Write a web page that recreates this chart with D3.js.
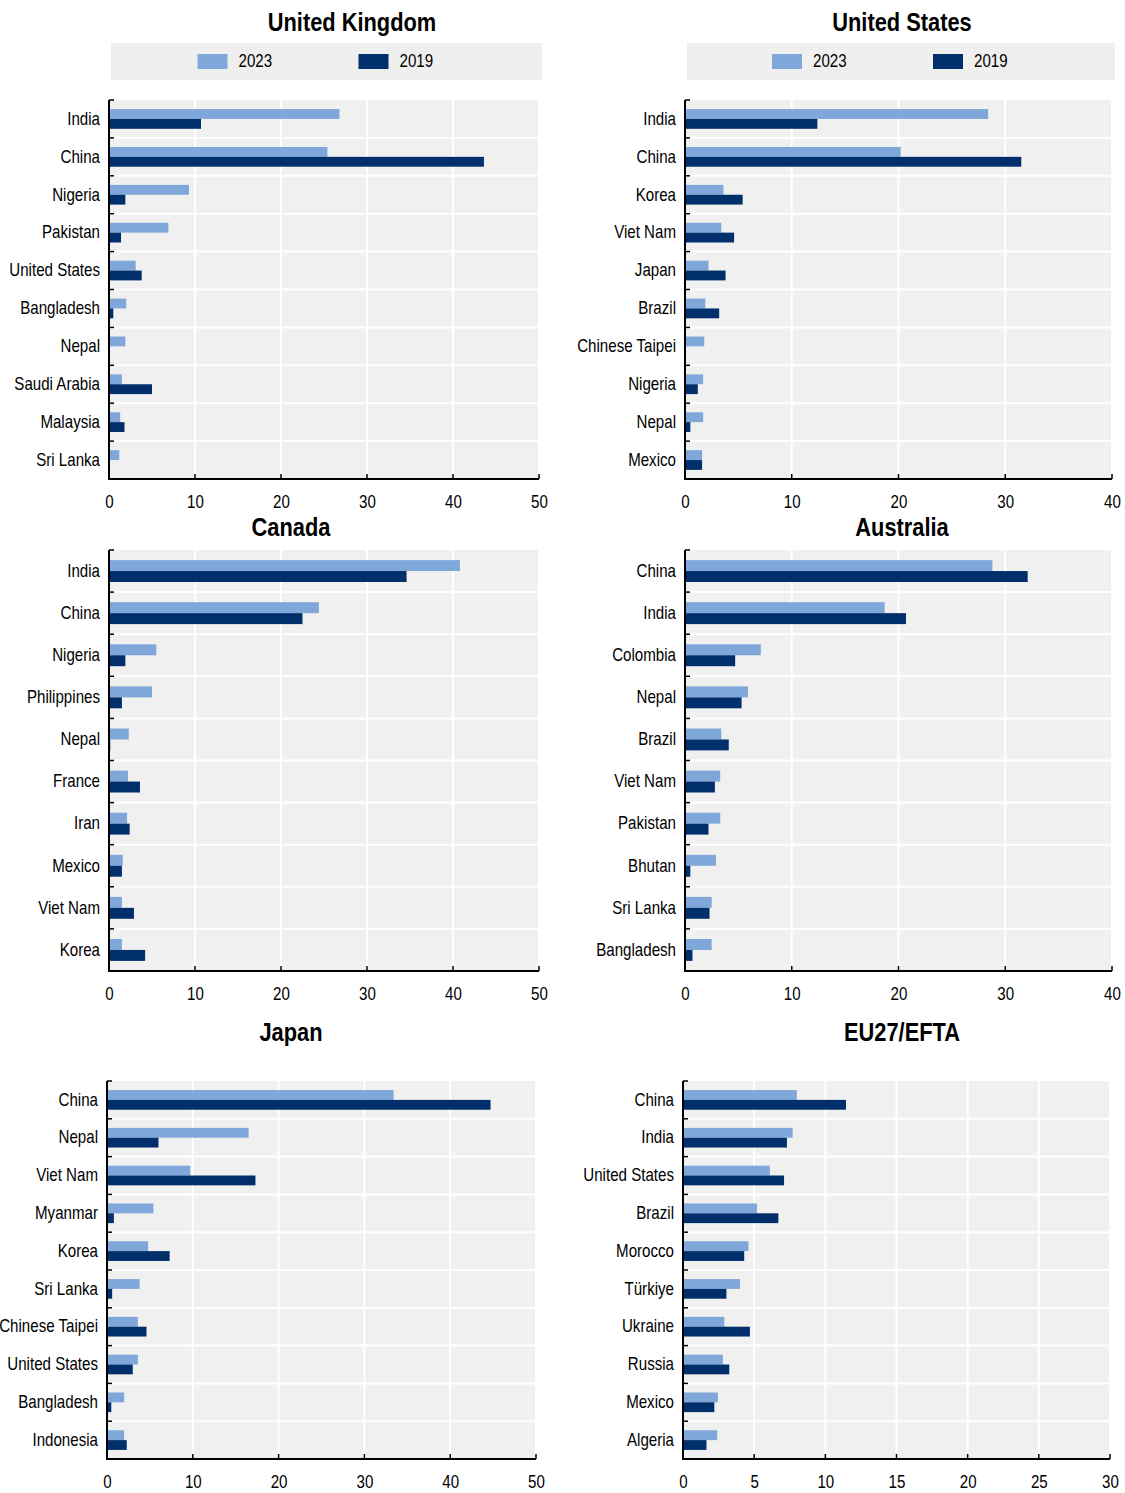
<!DOCTYPE html>
<html><head><meta charset="utf-8">
<script src="https://cdn.jsdelivr.net/npm/d3@7"></script>
<style>
body{margin:0;background:#fff}
text{font-family:"Liberation Sans",Arial,sans-serif;fill:#000}
</style>
</head><body>
<svg id="c" width="1125" height="1493"></svg>
<script>
const seriesNames = ["2023", "2019"];
const seriesColors = ["#7FA7D9", "#002F6C"];

const ukCountries = ["India","China","Nigeria","Pakistan","United States","Bangladesh","Nepal","Saudi Arabia","Malaysia","Sri Lanka"];
const uk2023 = [26.8, 25.4, 9.3, 6.9, 3.1, 2.0, 1.9, 1.5, 1.3, 1.2];
const uk2019 = [10.7, 43.6, 1.9, 1.4, 3.8, 0.5, 0.1, 5.0, 1.8, 0.1];
const ukTicks = [0,10,20,30,40,50];

const usCountries = ["India","China","Korea","Viet Nam","Japan","Brazil","Chinese Taipei","Nigeria","Nepal","Mexico"];
const us2023 = [28.4, 20.2, 3.6, 3.4, 2.2, 1.9, 1.8, 1.7, 1.7, 1.6];
const us2019 = [12.4, 31.5, 5.4, 4.6, 3.8, 3.2, 0, 1.2, 0.5, 1.6];
const usTicks = [0,10,20,30,40];

const caCountries = ["India","China","Nigeria","Philippines","Nepal","France","Iran","Mexico","Viet Nam","Korea"];
const ca2023 = [40.8, 24.4, 5.5, 5.0, 2.3, 2.2, 2.1, 1.6, 1.5, 1.5];
const ca2019 = [34.6, 22.5, 1.9, 1.5, 0.15, 3.6, 2.4, 1.5, 2.9, 4.2];
const caTicks = [0,10,20,30,40,50];

const auCountries = ["China","India","Colombia","Nepal","Brazil","Viet Nam","Pakistan","Bhutan","Sri Lanka","Bangladesh"];
const au2023 = [28.8, 18.7, 7.1, 5.9, 3.4, 3.3, 3.3, 2.9, 2.5, 2.5];
const au2019 = [32.1, 20.7, 4.7, 5.3, 4.1, 2.8, 2.2, 0.5, 2.3, 0.7];
const auTicks = [0,10,20,30,40];

const jpCountries = ["China","Nepal","Viet Nam","Myanmar","Korea","Sri Lanka","Chinese Taipei","United States","Bangladesh","Indonesia"];
const jp2023 = [33.4, 16.5, 9.7, 5.4, 4.8, 3.8, 3.6, 3.6, 2.0, 2.0];
const jp2019 = [44.7, 6.0, 17.3, 0.8, 7.3, 0.6, 4.6, 3.0, 0.5, 2.3];
const jpTicks = [0,10,20,30,40,50];

const euCountries = ["China","India","United States","Brazil","Morocco","Türkiye","Ukraine","Russia","Mexico","Algeria"];
const eu2023 = [8.0, 7.7, 6.1, 5.2, 4.6, 4.0, 2.9, 2.8, 2.45, 2.4];
const eu2019 = [11.45, 7.3, 7.1, 6.7, 4.3, 3.05, 4.7, 3.25, 2.2, 1.65];
const euTicks = [0,5,10,15,20,25,30];

const panels = [
  {title:"United Kingdom", cats:ukCountries, a:uk2023, b:uk2019, ticks:ukTicks, L:109, R:539, T:100, B:479, tx:352, ty:22, legend:[111,542,43,80]},
  {title:"United States", cats:usCountries, a:us2023, b:us2019, ticks:usTicks, L:685, R:1112, T:100, B:479, tx:902, ty:22, legend:[687,1115,43,80]},
  {title:"Canada", cats:caCountries, a:ca2023, b:ca2019, ticks:caTicks, L:109, R:539, T:550, B:971, tx:291, ty:527},
  {title:"Australia", cats:auCountries, a:au2023, b:au2019, ticks:auTicks, L:685, R:1112, T:550, B:971, tx:902, ty:527},
  {title:"Japan", cats:jpCountries, a:jp2023, b:jp2019, ticks:jpTicks, L:107, R:536, T:1081, B:1459, tx:291, ty:1032},
  {title:"EU27/EFTA", cats:euCountries, a:eu2023, b:eu2019, ticks:euTicks, L:683, R:1110, T:1081, B:1459, tx:902, ty:1032}
];

const SX = 0.84; // horizontal condensing to mimic a narrow face
function narrow(sel) {
  sel.each(function(){
    const t = d3.select(this);
    const x = +t.attr("x") || 0;
    t.attr("x", x / SX).attr("transform", `scale(${SX},1)`);
  });
}

const svg = d3.select("#c");

panels.forEach(p => {
  const g = svg.append("g");
  const xMax = p.ticks[p.ticks.length-1];
  const x = d3.scaleLinear().domain([0, xMax]).range([p.L, p.R]);
  const y = d3.scaleBand().domain(p.cats).range([p.T, p.B]).paddingInner(0.48).paddingOuter(0.24);
  const step = y.step();
  const ySub = d3.scaleBand().domain(seriesNames).range([0, y.bandwidth()]);

  // title
  g.append("text").attr("x", p.tx).attr("y", p.ty).attr("text-anchor","middle")
    .attr("dominant-baseline","central").style("font-size","26px").style("font-weight","bold").text(p.title)
    .call(narrow);

  // legend
  if (p.legend) {
    const [lx0, lx1, ly0, ly1] = p.legend;
    g.append("rect").attr("x", lx0).attr("y", ly0).attr("width", lx1-lx0).attr("height", ly1-ly0).attr("fill","#EFEFEF");
    const cx = (lx0+lx1)/2;
    const items = [{n:seriesNames[0], c:seriesColors[0], x:cx-129},{n:seriesNames[1], c:seriesColors[1], x:cx+32}];
    items.forEach(it => {
      g.append("rect").attr("x", it.x).attr("y", (ly0+ly1)/2-7.5).attr("width",30).attr("height",15).attr("fill", it.c);
      g.append("text").attr("x", it.x+41).attr("y",(ly0+ly1)/2).attr("dominant-baseline","central")
        .style("font-size","18px").text(it.n).call(narrow);
    });
  }

  // background
  g.append("rect").attr("x", p.L).attr("y", p.T).attr("width", p.R-p.L).attr("height", p.B-p.T).attr("fill","#F0F0F0");

  // vertical grid
  g.selectAll(".vg").data(p.ticks.slice(1)).enter().append("line")
    .attr("x1", d=>x(d)).attr("x2", d=>x(d)).attr("y1", p.T).attr("y2", p.B)
    .attr("stroke","#fff").attr("stroke-width",2);
  // horizontal separators
  const seps = p.cats.slice(1).map(c => y(c) - y.paddingOuter()*step);
  g.selectAll(".hg").data(seps).enter().append("line")
    .attr("x1", p.L).attr("x2", p.R).attr("y1", d=>d).attr("y2", d=>d)
    .attr("stroke","#fff").attr("stroke-width",2);

  // bars
  const rows = p.cats.map((c,i)=>({c, vals:[p.a[i], p.b[i]]}));
  const rg = g.selectAll(".row").data(rows).enter().append("g").attr("transform", d=>`translate(0,${y(d.c)})`);
  rg.selectAll("rect").data(d => d.vals.map((v,j)=>({v, s:seriesNames[j], col:seriesColors[j]}))).enter()
    .append("rect")
    .attr("x", x(0)).attr("y", d=>ySub(d.s)).attr("height", ySub.bandwidth())
    .attr("width", d=>Math.max(0, x(d.v)-x(0))).attr("fill", d=>d.col);

  // y axis
  const yAxis = d3.axisLeft(y).tickSize(0).tickPadding(9);
  const ya = g.append("g").attr("transform", `translate(${p.L},0)`).call(yAxis);
  ya.select(".domain").remove();
  ya.selectAll("text").style("font-size","18px").style("font-family",'"Liberation Sans",Arial,sans-serif').call(narrow);
  // boundary ticks
  const bounds = [p.T].concat(seps);
  g.selectAll(".yt").data(bounds).enter().append("line")
    .attr("x1", p.L).attr("x2", p.L+5).attr("y1", d=>d).attr("y2", d=>d)
    .attr("stroke","#000").attr("stroke-width",1.5);
  g.append("line").attr("x1", p.L).attr("x2", p.L).attr("y1", p.T).attr("y2", p.B)
    .attr("stroke","#000").attr("stroke-width",2);

  // x axis
  const xAxis = d3.axisBottom(x).tickValues(p.ticks).tickSize(0).tickPadding(16).tickFormat(d3.format("d"));
  const xa = g.append("g").attr("transform", `translate(0,${p.B})`).call(xAxis);
  xa.select(".domain").remove();
  xa.selectAll("text").style("font-size","18px").style("font-family",'"Liberation Sans",Arial,sans-serif').call(narrow);
  g.selectAll(".xt").data(p.ticks.slice(1)).enter().append("line")
    .attr("x1", d=>x(d)).attr("x2", d=>x(d)).attr("y1", p.B-5).attr("y2", p.B)
    .attr("stroke","#000").attr("stroke-width",1.5);
  g.append("line").attr("x1", p.L-1).attr("x2", p.R).attr("y1", p.B).attr("y2", p.B)
    .attr("stroke","#000").attr("stroke-width",2);
});
</script>
</body></html>
